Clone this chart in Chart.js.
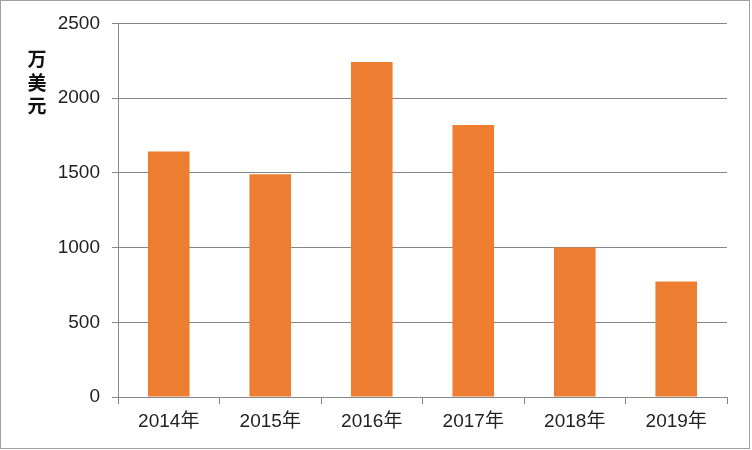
<!DOCTYPE html>
<html>
<head>
<meta charset="utf-8">
<script src="https://cdn.jsdelivr.net/npm/chart.js@4"></script>
<style>
  html, body { margin: 0; padding: 0; background: #fff; }
  #wrap { position: relative; width: 752px; height: 450px; }
  #frame { position: absolute; left: 0; top: 0; width: 748px; height: 447px; border: 1px solid #a0a0a0; pointer-events: none; }
</style>
</head>
<body>
<div id="wrap">
  <canvas id="myChart" width="752" height="450"></canvas>
  <div id="frame"></div>
</div>
<script>
// 数据
const years = ['2014年', '2015年', '2016年', '2017年', '2018年', '2019年'];
const values = [1642, 1490, 2242, 1820, 1000, 773];
const yTicks = [0, 500, 1000, 1500, 2000, 2500];
const unitLabel = ['万', '美', '元'];

// y轴竖排单位
const unitPlugin = {
    id: 'unitLabel',
    afterDraw(chart) {
        const ctx = chart.ctx;
        ctx.save();
        ctx.fillStyle = '#111';
        ctx.font = 'bold 19px "Noto Sans CJK SC"';
        ctx.textAlign = 'center';
        ctx.textBaseline = 'middle';
        unitLabel.forEach((ch, i) => ctx.fillText(ch, 37, 59 + i * 23.5));
        ctx.restore();
    }
};

const ctx = document.getElementById('myChart').getContext('2d');
const myChart = new Chart(ctx, {
    type: 'bar',
    data: {
        labels: years,
        datasets: [{
            data: values,
            backgroundColor: '#ED7D31',
            barPercentage: 0.41,
            categoryPercentage: 1
        }]
    },
    options: {
        responsive: false,
        animation: false,
        events: [],
        layout: { padding: { top: 22, right: 25, left: 0, bottom: 0 } },
        plugins: { legend: { display: false }, tooltip: { enabled: false } },
        scales: {
            x: {
                offset: true,
                grid: { offset: true, drawOnChartArea: false, drawTicks: true, tickLength: 7, color: '#868686' },
                border: { color: '#868686' },
                ticks: { color: '#222', font: { size: 19, family: '"Liberation Sans", "Noto Sans CJK SC"' }, padding: 6 },
                afterFit(scale) { scale.height = 450 - 397; }
            },
            y: {
                min: 0,
                max: 2500,
                afterBuildTicks(scale) { scale.ticks = yTicks.map(v => ({ value: v })); },
                grid: { color: '#868686', tickLength: 6 },
                border: { color: '#868686' },
                ticks: {
                    color: '#222',
                    font: { size: 19, family: '"Liberation Sans"' },
                    padding: 12,
                    callback: v => String(v)
                },
                afterFit(scale) { scale.width = 118; }
            }
        }
    },
    plugins: [unitPlugin]
});
</script>
</body>
</html>
